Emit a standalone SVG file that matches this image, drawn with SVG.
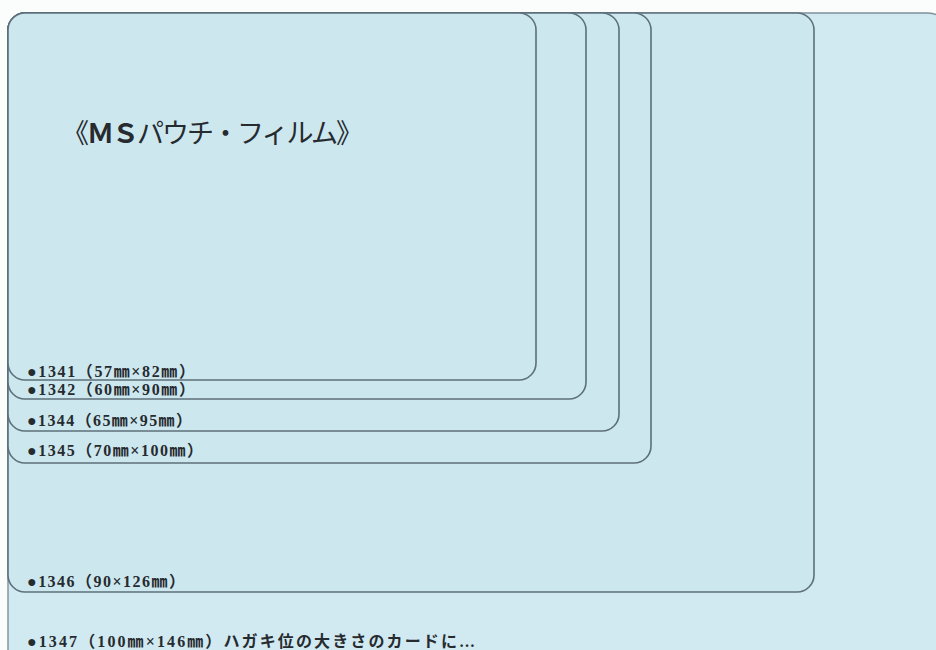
<svg xmlns="http://www.w3.org/2000/svg" width="936" height="650" viewBox="0 0 936 650">
  <style>
    .card { fill: #cde7ef; stroke: #5d707b; stroke-width: 1.6; }
    .outer { fill: #d1e9f1; stroke: #7f9099; stroke-width: 1.4; }
    .lbl { font-family: "Liberation Serif", "Noto Sans CJK JP", serif; font-size: 16px; font-weight: bold; fill: #262b2f; }
    .title { font-family: "Liberation Serif", "Noto Sans CJK JP", serif; font-size: 27px; fill: #262b2f; }
  </style>
  <rect x="0" y="0" width="936" height="650" fill="#fbfcfc"/>
  <g id="card-1347">
    <rect class="outer" x="8" y="13" width="940" height="680" rx="20"/>
  </g>
  <g id="card-1346">
    <rect class="card" x="8" y="13" width="806" height="579" rx="17"/>
  </g>
  <g id="card-1345">
    <rect class="card" x="8" y="13" width="643" height="450" rx="17"/>
  </g>
  <g id="card-1344">
    <rect class="card" x="8" y="13" width="611" height="418" rx="17"/>
  </g>
  <g id="card-1342">
    <rect class="card" x="8" y="13" width="578" height="386" rx="17"/>
  </g>
  <g id="card-1341">
    <rect class="card" x="8" y="13" width="528" height="367" rx="17"/>
  </g>
  <g id="title">
    <text class="title" x="62" y="143" textLength="301" lengthAdjust="spacing">《<tspan font-weight="bold">ＭＳ</tspan>パウチ・フィルム》</text>
  </g>
  <g id="labels">
    <text class="lbl" x="27" y="377" textLength="168" lengthAdjust="spacing">●1341（57㎜×82㎜）</text>
    <text class="lbl" x="27" y="395" textLength="168" lengthAdjust="spacing">●1342（60㎜×90㎜）</text>
    <text class="lbl" x="27" y="426" textLength="165" lengthAdjust="spacing">●1344（65㎜×95㎜）</text>
    <text class="lbl" x="27" y="456" textLength="176" lengthAdjust="spacing">●1345（70㎜×100㎜）</text>
    <text class="lbl" x="27" y="587" textLength="158" lengthAdjust="spacing">●1346（90×126㎜）</text>
    <text class="lbl" x="27" y="647" textLength="448" lengthAdjust="spacing">●1347（100㎜×146㎜）ハガキ位の大きさのカードに…</text>
  </g>
  <g id="connectors"></g>
</svg>
